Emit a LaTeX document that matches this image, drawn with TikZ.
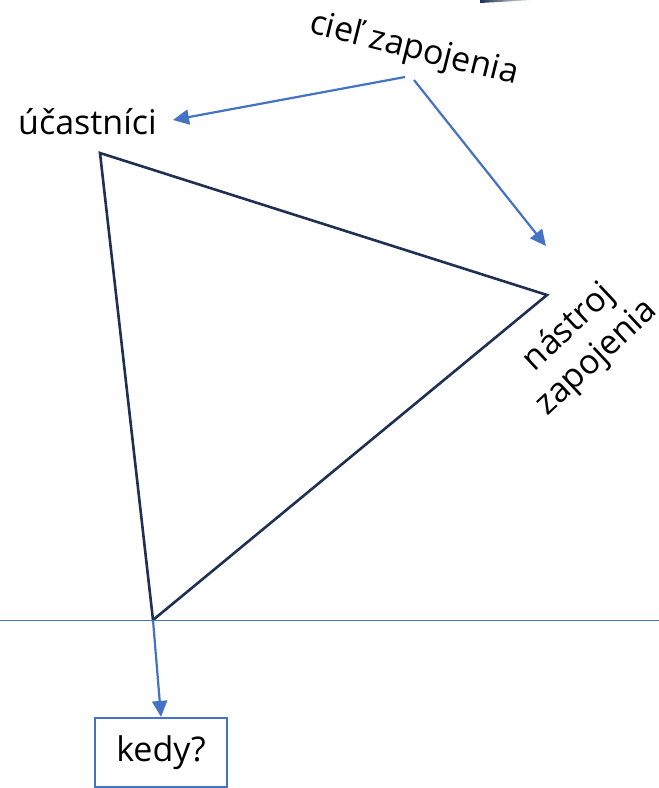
\documentclass[tikz,border=0pt]{standalone}
\usepackage{fontspec}
\setmainfont{Open Sans}
\usetikzlibrary{arrows.meta}
\definecolor{navy}{HTML}{1F3052}
\definecolor{ablue}{HTML}{4472C4}
\tikzset{
  tri/.style={draw=navy, line width=2.6pt, line join=miter},
  arr/.style={draw=ablue, line width=2.2pt, -{Triangle[length=16pt,width=15pt]}},
  lbl/.style={font=\fontsize{34}{41}\selectfont, text=black, inner sep=0pt},
  boxed/.style={draw=ablue, line width=2.2pt, minimum width=132pt, minimum height=69pt, inner sep=0pt, font=\fontsize{34}{41}\selectfont}
}
\begin{document}
\begin{tikzpicture}[x=1pt,y=-1pt]
\useasboundingbox (0,0) rectangle (659,788);
% top wedge
\shade[left color=navy, right color=white] (480,3) -- (535,0) -- (480,0) -- cycle;
% triangle
\coordinate (A) at (100,153);
\coordinate (B) at (547,295);
\coordinate (C) at (153,620);
\draw[tri] (A) -- (B) -- (C) -- cycle;
% horizontal line
\coordinate (hl) at (0,620);
\coordinate (hr) at (659,620);
\draw[ablue, line width=1pt] (hl) -- (hr);
% labels
\node[lbl, rotate=-14] (goal) at (414,50) {cieľ zapojenia};
\node[lbl, anchor=west] (part) at (18,122) {účastníci};
\node[lbl, rotate=43, align=center] (tool) at (583,343) {nástroj\\zapojenia};
\node[boxed] (kedy) at (161,752.5) {kedy?};
% arrows
\coordinate (g1) at (405,77);
\coordinate (g2) at (414,80);
\coordinate (t1) at (546,246);
\coordinate (p1) at (173,120);
\draw[arr] (g1) -- (p1);
\draw[arr] (g2) -- (t1);
\draw[arr] (C) -- (kedy.north);
\end{tikzpicture}
\end{document}
